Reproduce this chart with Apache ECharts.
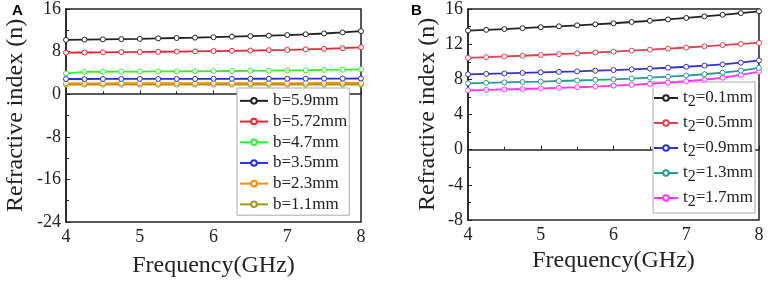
<!DOCTYPE html>
<html>
<head>
<meta charset="utf-8">
<script src="https://cdn.jsdelivr.net/npm/echarts@6/dist/echarts.min.js"></script>
<style>
  html, body { margin: 0; padding: 0; background: #fff; }
  #chart { width: 768px; height: 283px; }
</style>
</head>
<body>
<div id="chart"></div>
<script>
// frequency samples (GHz), shared by every curve
const freqs = [4, 4.25, 4.5, 4.75, 5, 5.25, 5.5, 5.75, 6, 6.25, 6.5, 6.75, 7, 7.25, 7.5, 7.75, 8];

// panel A: refractive index for different b
const namesA = ['b=5.9mm', 'b=5.72mm', 'b=4.7mm', 'b=3.5mm', 'b=2.3mm', 'b=1.1mm'];
const colorsA = ['#222222', '#ee2233', '#33ee33', '#2233dd', '#ff8a00', '#9a9a20'];
const b59 = [10.2, 10.25, 10.3, 10.35, 10.4, 10.48, 10.55, 10.62, 10.7, 10.8, 10.9, 11.0, 11.1, 11.25, 11.4, 11.6, 11.85];
const b572 = [7.8, 7.83, 7.86, 7.9, 7.93, 7.97, 8.0, 8.05, 8.1, 8.15, 8.2, 8.26, 8.33, 8.42, 8.52, 8.64, 8.8];
const b47 = [3.9, 4.2, 4.22, 4.24, 4.25, 4.27, 4.29, 4.31, 4.33, 4.36, 4.39, 4.42, 4.46, 4.5, 4.55, 4.6, 4.68];
const b35 = [2.85, 2.85, 2.86, 2.86, 2.87, 2.87, 2.88, 2.88, 2.89, 2.89, 2.9, 2.9, 2.91, 2.92, 2.93, 2.94, 2.95];
const b23 = [2.05, 2.05, 2.05, 2.06, 2.06, 2.06, 2.07, 2.07, 2.07, 2.08, 2.08, 2.08, 2.09, 2.09, 2.1, 2.1, 2.1];
const b11 = [1.8, 1.8, 1.8, 1.8, 1.8, 1.8, 1.8, 1.8, 1.8, 1.8, 1.8, 1.8, 1.8, 1.8, 1.8, 1.8, 1.8];
const valuesA = [b59, b572, b47, b35, b23, b11];

// panel B: refractive index for different t2
const namesB = ['0.1mm', '0.5mm', '0.9mm', '1.3mm', '1.7mm'];
const colorsB = ['#222222', '#e0404f', '#3333cc', '#2a9a8a', '#ff33ff'];
const t01 = [13.55, 13.63, 13.72, 13.82, 13.93, 14.03, 14.14, 14.26, 14.38, 14.52, 14.66, 14.81, 14.98, 15.16, 15.34, 15.53, 15.74];
const t05 = [10.45, 10.52, 10.6, 10.68, 10.77, 10.86, 10.95, 11.05, 11.15, 11.26, 11.37, 11.49, 11.62, 11.76, 11.9, 12.03, 12.15];
const t09 = [8.57, 8.62, 8.67, 8.73, 8.79, 8.85, 8.91, 8.98, 9.05, 9.13, 9.22, 9.32, 9.43, 9.56, 9.7, 9.9, 10.15];
const t13 = [7.55, 7.6, 7.65, 7.7, 7.75, 7.81, 7.87, 7.93, 8.0, 8.09, 8.19, 8.3, 8.43, 8.58, 8.76, 9.0, 9.3];
const t17 = [6.76, 6.8, 6.85, 6.9, 6.96, 7.03, 7.1, 7.18, 7.28, 7.38, 7.5, 7.63, 7.78, 7.96, 8.18, 8.5, 8.87];
const valuesB = [t01, t05, t09, t13, t17];

const FONT = 'Liberation Serif';
const INK = '#222';

function pairs(vals) {
  return freqs.map((f, i) => [f, vals[i]]);
}

function makeSeries(names, colors, values, idx) {
  return names.map((n, i) => ({
    name: n,
    type: 'line',
    xAxisIndex: idx,
    yAxisIndex: idx,
    data: pairs(values[i]),
    symbol: 'circle',
    symbolSize: 5,
    showSymbol: true,
    animation: false,
    lineStyle: { color: colors[i], width: 1.8 },
    itemStyle: { color: '#fff', borderColor: colors[i], borderWidth: 1 },
    z: 10 - i
  }));
}

function xAxisOpt(idx, gap) {
  return {
    type: 'value', gridIndex: idx, min: 4, max: 8, interval: 1,
    name: 'Frequency(GHz)', nameLocation: 'middle', nameGap: gap,
    nameTextStyle: { fontFamily: FONT, fontSize: 24, color: INK },
    axisLine: { lineStyle: { color: INK, width: 1.5 } },
    axisTick: { inside: true, length: 4, lineStyle: { color: INK } },
    minorTick: { show: true, splitNumber: 2, length: 3, lineStyle: { color: INK } },
    axisLabel: { fontFamily: FONT, fontSize: 18, color: INK, margin: 6 },
    splitLine: { show: false }
  };
}

function yAxisOpt(idx, min, max, step, gap) {
  return {
    type: 'value', gridIndex: idx, min: min, max: max, interval: step,
    name: 'Refractive index (n)', nameLocation: 'middle', nameGap: gap,
    nameTextStyle: { fontFamily: FONT, fontSize: 24, color: INK },
    axisLine: { lineStyle: { color: INK, width: 1.5 } },
    axisTick: { inside: true, length: 4, lineStyle: { color: INK } },
    minorTick: { show: true, splitNumber: 2, length: 3, lineStyle: { color: INK } },
    axisLabel: { fontFamily: FONT, fontSize: 18, color: INK, margin: 5 },
    splitLine: { show: false }
  };
}

const chart = echarts.init(document.getElementById('chart'));
chart.setOption({
  backgroundColor: '#fff',
  animation: false,
  grid: [
    { left: 66, top: 9, width: 295, height: 218, show: true, borderColor: INK, borderWidth: 1.5 },
    { left: 468, top: 8, width: 291, height: 212, show: true, borderColor: INK, borderWidth: 1.5 }
  ],
  xAxis: [xAxisOpt(0, 32), xAxisOpt(1, 25)],
  yAxis: [yAxisOpt(0, -24, 16, 8, 38), yAxisOpt(1, -8, 16, 4, 28)],
  legend: [
    {
      data: namesA, left: 237, top: 88, orient: 'vertical',
      itemWidth: 28, itemHeight: 7, itemGap: 1,
      padding: [3, 2, 1, 2],
      borderColor: '#aaa', borderWidth: 1, backgroundColor: '#fff',
      textStyle: { fontFamily: FONT, fontSize: 17, color: INK, lineHeight: 19.7 }
    },
    {
      data: namesB, left: 653, top: 82, orient: 'vertical',
      itemWidth: 24, itemHeight: 7, itemGap: 1, align: 'left',
      padding: [4, 2, 3, 0],
      borderColor: '#aaa', borderWidth: 1, backgroundColor: '#fff',
      formatter: n => '{t|t}{s|2}{t|=' + n + '}',
      textStyle: {
        fontFamily: FONT, fontSize: 17, color: INK, lineHeight: 22,
        rich: {
          t: { fontFamily: FONT, fontSize: 17, color: INK, lineHeight: 22 },
          s: { fontFamily: FONT, fontSize: 16, color: INK, lineHeight: 14, padding: [8, 0, 0, 0] }
        }
      }
    }
  ],
  graphic: [
    { type: 'text', left: 12, top: 3, style: { text: 'A', font: 'bold 15px "Liberation Sans"', fill: '#000' } },
    { type: 'text', left: 411, top: 3, style: { text: 'B', font: 'bold 15px "Liberation Sans"', fill: '#000' } }
  ],
  series: makeSeries(namesA, colorsA, valuesA, 0).concat(makeSeries(namesB, colorsB, valuesB, 1))
});
</script>
</body>
</html>
